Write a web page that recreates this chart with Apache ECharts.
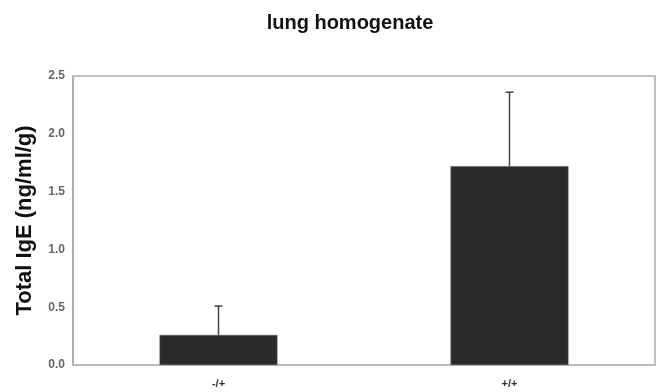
<!DOCTYPE html>
<html><head><meta charset="utf-8">
<script src="https://cdn.jsdelivr.net/npm/echarts@6/dist/echarts.min.js"></script>
<style>html,body{margin:0;padding:0;background:#fff}#c{width:659px;height:392px}</style>
</head><body><div id="c"></div>
<script>
const categories = ['-/+', '+/+'];
const means = [0.26, 1.72];
const errUpper = [0.51, 2.36];
const yTicks = ['0.0','0.5','1.0','1.5','2.0','2.5'];

const chart = echarts.init(document.getElementById('c'));
chart.setOption({
  animation: false,
  title: {text: 'lung homogenate', left: 345, textAlign: 'center', top: 8,
    textStyle: {fontFamily: 'Liberation Sans, Arial', fontSize: 20, fontWeight: 'bold', color: '#111'}},
  grid: {left: 73, right: 4, top: 76, bottom: 27, show: true, borderColor: '#aaa', borderWidth: 1.5},
  xAxis: {type: 'category', data: categories,
    axisLine: {show: true, lineStyle: {color: '#bbb', width: 1.5}},
    axisTick: {show: false},
    axisLabel: {fontFamily: 'Liberation Sans, Arial', fontSize: 11, fontWeight: 'bold', color: '#333', margin: 13}},
  yAxis: {type: 'value', min: 0, max: 2.5, interval: 0.5,
    name: 'Total IgE (ng/ml/g)', nameLocation: 'middle', nameGap: 37,
    nameTextStyle: {fontFamily: 'Liberation Sans, Arial', fontSize: 22, fontWeight: 'bold', color: '#111'},
    axisLine: {show: true, lineStyle: {color: '#aaa', width: 1.5}},
    axisTick: {show: false},
    splitLine: {show: false},
    axisLabel: {fontFamily: 'Liberation Sans, Arial', fontSize: 12, fontWeight: 'bold', color: '#666', margin: 8,
      padding: [3, 0, 0, 0],
      formatter: (v) => yTicks[Math.round(v / 0.5)]}},
  series: [
    {type: 'bar', data: means, barWidth: '40.5%',
      itemStyle: {color: '#2b2b2b', borderColor: '#555', borderWidth: 0.5}},
    {type: 'custom', data: categories.map((c, i) => [i, means[i], errUpper[i]]), z: 1,
      renderItem: function (params, api) {
        const b = api.coord([api.value(0), api.value(1)]);
        const t = api.coord([api.value(0), api.value(2)]);
        return {type: 'group', children: [
          {type: 'line', shape: {x1: b[0], y1: b[1], x2: t[0], y2: t[1]}, style: {stroke: '#444', lineWidth: 1.5}},
          {type: 'line', shape: {x1: t[0] - 4, y1: t[1], x2: t[0] + 4, y2: t[1]}, style: {stroke: '#444', lineWidth: 1.5}}
        ]};
      }}
  ]
});
</script></body></html>
